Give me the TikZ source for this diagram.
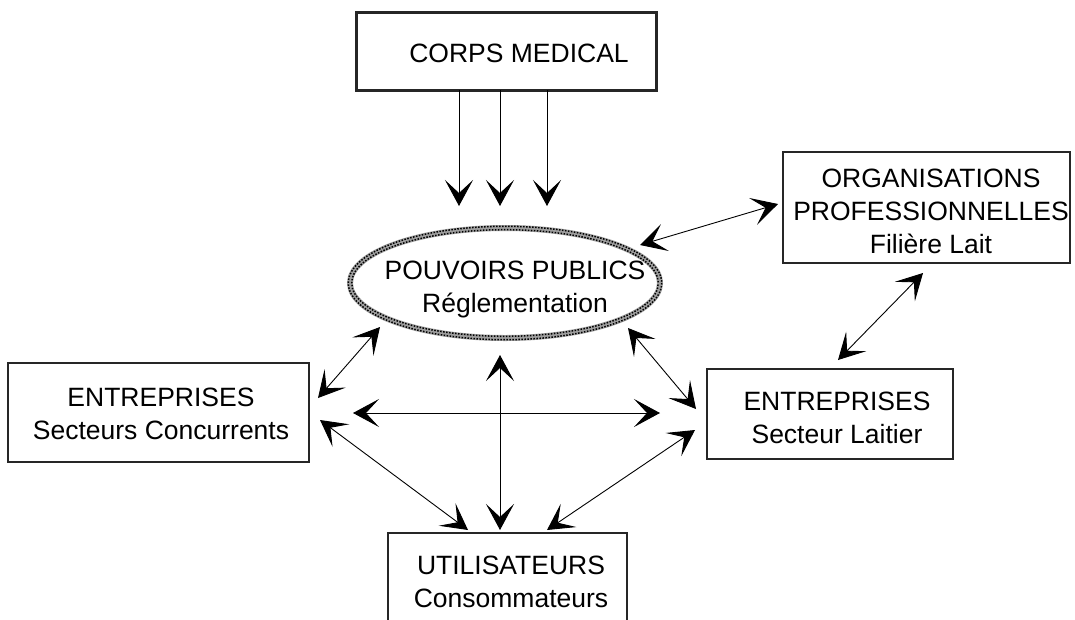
\documentclass[tikz,border=0pt]{standalone}
\usepackage{fontspec}
\setmainfont{Liberation Sans}
\usetikzlibrary{arrows.meta,shapes.geometric}
\begin{document}
\begin{tikzpicture}[x=1pt,y=-1pt,
  boxthin/.style={draw=black!85, line width=1.2pt, rectangle, inner sep=0pt},
  lbl/.style={font=\fontsize{26.5}{33}\selectfont, align=center, inner sep=0pt},
  conn/.style={line width=0.9pt, {Stealth[length=26pt,width=28pt,inset=13pt]}-{Stealth[length=26pt,width=28pt,inset=13pt]}},
  oneway/.style={line width=0.9pt, -{Stealth[length=26pt,width=28pt,inset=13pt]}}]
\useasboundingbox (0,0) rectangle (1075,619);

% boxes
\node[boxthin, line width=3pt, minimum width=300pt, minimum height=78pt] (cm) at (506,51) {};
\node[boxthin, minimum width=287pt, minimum height=111pt] (org) at (926.5,207.5) {};
\node[boxthin, minimum width=301pt, minimum height=99pt] (le) at (158.5,412.5) {};
\node[boxthin, minimum width=246pt, minimum height=90pt] (re) at (830,414) {};
\node[boxthin, minimum width=239pt, minimum height=117pt] (ut) at (507.5,591.5) {};

% ellipse
\node[ellipse, minimum width=310pt, minimum height=110pt, inner sep=0pt] (pp) at (505,283) {};
\draw[gray!75, line width=6pt] (pp.center) ellipse [x radius=155, y radius=55];
\draw[black, line width=1.5pt, dash pattern=on 1.5pt off 1.5pt] (pp.center) ellipse [x radius=156.7, y radius=56.7];
\draw[black, line width=1.5pt, dash pattern=on 1.5pt off 1.5pt, dash phase=1.5pt] (pp.center) ellipse [x radius=153.3, y radius=53.3];

% texts
\node[lbl] (cmt) at (519,53) {CORPS MEDICAL};
\node[lbl] (ppt) at (515,289) {POUVOIRS PUBLICS\\R\'eglementation};
\node[lbl] (orgt) at (931,211) {ORGANISATIONS\\PROFESSIONNELLES\\Fili\`ere Lait};
\node[lbl] (let) at (161,414) {ENTREPRISES\\Secteurs Concurrents};
\node[lbl] (ret) at (837,418) {ENTREPRISES\\Secteur Laitier};
\node[lbl] (utt) at (511,582) {UTILISATEURS\\Consommateurs};

% connector end points
\coordinate (cmA) at (459,90);  \coordinate (ppA) at (459,206);
\coordinate (cmB) at (500,90);  \coordinate (ppB) at (500,206);
\coordinate (cmC) at (547,90);  \coordinate (ppC) at (547,206);
\coordinate (ppOrg) at (640,245); \coordinate (orgPp) at (778,204);
\coordinate (orgRe) at (923,273); \coordinate (reOrg) at (838,360);
\coordinate (ppLe) at (380,327); \coordinate (lePp) at (318,398);
\coordinate (ppRe) at (628,328); \coordinate (rePp) at (696,409);
\coordinate (leRe) at (353,413); \coordinate (reLe) at (660,413);
\coordinate (ppUt) at (500,355); \coordinate (utPp) at (500,530);
\coordinate (leUt) at (320,420); \coordinate (utLe) at (468,530);
\coordinate (reUt) at (695,430); \coordinate (utRe) at (547,530);

% connectors
\draw[oneway] (cmA) -- (ppA);
\draw[oneway] (cmB) -- (ppB);
\draw[oneway] (cmC) -- (ppC);
\draw[conn] (ppOrg) -- (orgPp);
\draw[conn] (orgRe) -- (reOrg);
\draw[conn] (ppLe) -- (lePp);
\draw[conn] (ppRe) -- (rePp);
\draw[conn] (leRe) -- (reLe);
\draw[conn] (ppUt) -- (utPp);
\draw[conn] (leUt) -- (utLe);
\draw[conn] (reUt) -- (utRe);
\end{tikzpicture}
\end{document}
